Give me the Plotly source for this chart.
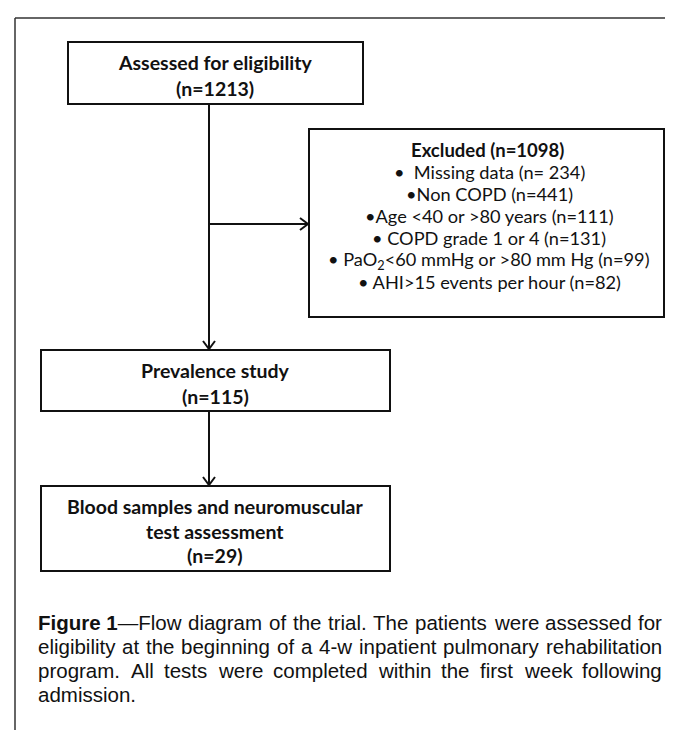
import plotly.graph_objects as go

# flow counts
assessed_n = 1213
excluded_n = 1098
exclusion_bullets = ["•  ", "•", "•", "• ", "• ", "• "]
exclusion_labels = ["Missing data", "Non COPD", "Age &lt;40 or &gt;80 years", "COPD grade 1 or 4",
                    "PaO<sub>2</sub>&lt;60 mmHg or &gt;80 mm Hg", "AHI&gt;15 events per hour"]
exclusion_n = [234, 441, 111, 131, 99, 82]
exclusion_eq = ["= ", "=", "=", "=", "=", "="]
prevalence_n = 115
final_n = 29

caption_lines = [
    "<b>Figure\u00a01</b>—Flow diagram of the trial. The patients were assessed for",
    "eligibility at the beginning of a 4-w inpatient pulmonary rehabilitation",
    "program. All tests were completed within the first week following",
    "admission.",
]

BOX_FONT = "Lato, Open Sans, sans-serif"
CAP_FONT = "Liberation Sans, Arial, sans-serif"
INK = "#111111"

# arial advance widths (1/1000 em), used to justify the caption
AW = {" ": 278, "\u00a0": 278, ".": 278, "-": 333, "—": 1000, "A": 667, "F": 611, "T": 611, "W": 944}
AW.update({c: 556 for c in "0123456789abdeghnopqu"})
AW.update({c: 500 for c in "cksvxyz"})
AW.update({c: 222 for c in "ijl"})
AW.update({"f": 278, "t": 278, "r": 333, "m": 833, "w": 722})
BW = {"F": 611, "i": 278, "g": 611, "u": 611, "r": 389, "e": 556, "1": 556, "\u00a0": 278}


def width(s, size):
    total = 0
    if s.startswith("<b>"):
        bold, s = s[3:].split("</b>")
        total += sum(BW.get(c, 600) for c in bold)
    total += sum(AW.get(c, 556) for c in s)
    return total * size / 1000.0


fig = go.Figure()
shapes = []
annots = []


def box(x0, y0, x1, y1):
    shapes.append(dict(type="rect", x0=x0, y0=y0, x1=x1, y1=y1,
                       line=dict(color=INK, width=2), fillcolor="white", layer="above"))


def label(x, y, text, size, bold=False, fam=BOX_FONT, anchor="center"):
    annots.append(dict(x=x, y=y, text=("<b>%s</b>" % text) if bold else text, showarrow=False,
                       xanchor=anchor, yanchor="middle", font=dict(family=fam, size=size, color=INK)))


def arrow(pts):
    path = "M " + " L ".join("%s,%s" % p for p in pts)
    shapes.append(dict(type="path", path=path, line=dict(color=INK, width=2), layer="above"))


# page frame
shapes.append(dict(type="line", x0=7, y0=10, x1=673, y1=10, line=dict(color="#333", width=1.5)))
shapes.append(dict(type="line", x0=7, y0=10, x1=7, y1=730, line=dict(color="#333", width=1.5)))

# connectors
arrow([(201, 96), (201, 341)])
arrow([(195, 333), (201, 341), (207, 333)])
arrow([(201, 216), (300, 216)])
arrow([(292, 210), (300, 216), (292, 222)])
arrow([(201, 403), (201, 477)])
arrow([(195, 469), (201, 477), (207, 469)])

# boxes
box(60, 34, 355, 96)
label(207, 54, "Assessed for eligibility", 19.5, True)
label(207, 80, "(n=%d)" % assessed_n, 19.5, True)

box(301, 121, 656, 309)
label(479, 142, "Excluded (n=%d)" % excluded_n, 18.5, True)
for i, (b, t, e, n) in enumerate(zip(exclusion_bullets, exclusion_labels, exclusion_eq, exclusion_n)):
    label(481, 164 + 22 * i, "%s%s (n%s%d)" % (b, t, e, n), 18.2)

box(33, 342, 382, 403)
label(207, 362, "Prevalence study", 19.5, True)
label(207, 388, "(n=%d)" % prevalence_n, 19.5, True)

box(33, 478, 382, 563)
label(207, 498, "Blood samples and neuromuscular", 19.5, True)
label(207, 523, "test assessment", 19.5, True)
label(207, 547, "(n=%d)" % final_n, 19.5, True)

# justified caption
cap_size = 20.5
cap_left, cap_right = 28, 652
for k, line in enumerate(caption_lines):
    y = 614 + 24 * k
    words = line.split(" ")
    if k == len(caption_lines) - 1:
        label(cap_left, y, line, cap_size, fam=CAP_FONT, anchor="left")
        continue
    total = sum(width(w, cap_size) for w in words)
    gap = (cap_right - cap_left - total) / (len(words) - 1)
    x = cap_left
    for w in words:
        label(x, y, w, cap_size, fam=CAP_FONT, anchor="left")
        x += width(w, cap_size) + gap

fig.update_layout(
    width=673, height=730, margin=dict(l=0, r=0, t=0, b=0),
    paper_bgcolor="white", plot_bgcolor="white", showlegend=False,
    xaxis=dict(range=[0, 673], visible=False, fixedrange=True),
    yaxis=dict(range=[730, 0], visible=False, fixedrange=True),
    shapes=shapes, annotations=annots,
)
fig.write_html("out.html")
